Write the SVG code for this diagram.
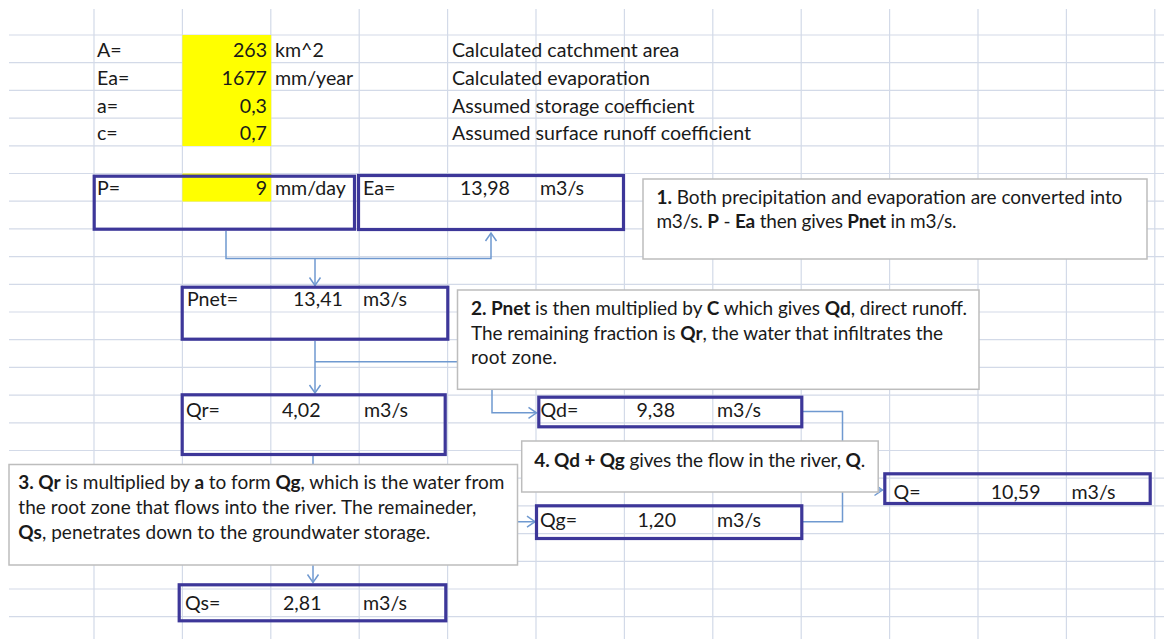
<svg xmlns="http://www.w3.org/2000/svg" width="1164" height="639" viewBox="0 0 1164 639">
<style>
.grid{stroke:#D3DAE8;stroke-width:1.2;fill:none}
.yel{fill:#FFFF00}
.box{fill:none;stroke:#3D3799;stroke-width:3.2}
.cell{font-family:Lato,"Liberation Sans",sans-serif;font-size:19.6px;fill:#1a1a1a}
.r{text-anchor:end}
.conn{fill:none;stroke:#6F99D0;stroke-width:1.5}
.call{fill:#FFFFFF;stroke:#BDBDBD;stroke-width:1.5}
.ct{font-family:Lato,"Liberation Sans",sans-serif;font-size:19px;fill:#1a1a1a}
.b{font-weight:bold}
</style>
<defs>
<marker id="arr" viewBox="-10 -7 12 14" refX="0" refY="0" markerWidth="12" markerHeight="14" markerUnits="userSpaceOnUse" orient="auto">
<path d="M-8,-5.5 L0,0 L-8,5.5" fill="none" stroke="#6F99D0" stroke-width="1.5"/>
</marker>
</defs>
<rect width="1164" height="639" fill="#FFFFFF"/>
<g id="grid">
<path class="grid" d="M94,9V639M182.4,9V639M270.8,9V639M359.2,9V639M447.6,9V639M536,9V639M624.4,9V639M712.8,9V639M801.2,9V639M889.6,9V639M978,9V639M1066.4,9V639M1154.8,9V639"/>
<path class="grid" d="M9,35H1164M9,62.7H1164M9,90.4H1164M9,118.1H1164M9,145.8H1164M9,173.5H1164M9,201.2H1164M9,228.9H1164M9,256.6H1164M9,284.3H1164M9,312H1164M9,339.7H1164M9,367.4H1164M9,395.1H1164M9,422.8H1164M9,450.5H1164M9,478.2H1164M9,505.9H1164M9,533.6H1164M9,561.3H1164M9,589H1164M9,616.7H1164"/>
</g>
<g id="inputs">
<rect class="yel" x="182.4" y="35" width="88.8" height="111"/>
<rect class="yel" x="182.4" y="173.5" width="88.8" height="28"/>
<text class="cell" x="97" y="57">A=</text>
<text class="cell" x="97" y="85">Ea=</text>
<text class="cell" x="97" y="112.5">a=</text>
<text class="cell" x="97" y="140">c=</text>
<text class="cell r" x="267" y="57">263</text>
<text class="cell r" x="267" y="85">1677</text>
<text class="cell r" x="267" y="112.5">0,3</text>
<text class="cell r" x="267" y="140">0,7</text>
<text class="cell" x="275" y="57">km^2</text>
<text class="cell" x="275" y="85">mm/year</text>
<text class="cell" x="452" y="57">Calculated catchment area</text>
<text class="cell" x="452" y="85">Calculated evaporation</text>
<text class="cell" x="452" y="112.5">Assumed storage coefficient</text>
<text class="cell" x="452" y="140">Assumed surface runoff coefficient</text>
</g>
<g id="connectors">
<path class="conn" d="M226,231V258.6H491V233" marker-end="url(#arr)"/>
<path class="conn" d="M315,258.6V285.5" marker-end="url(#arr)"/>
<path class="conn" d="M315,341V393" marker-end="url(#arr)"/>
<path class="conn" d="M315,361.7H492V412.8H536.5" marker-end="url(#arr)"/>
<path class="conn" d="M313,456V582.5" marker-end="url(#arr)"/>
<path class="conn" d="M313,521.7H535" marker-end="url(#arr)"/>
<path class="conn" d="M803,411.5H842.5V521.7H803"/>
<path class="conn" d="M842.5,490H882.5" marker-end="url(#arr)"/>
</g>
<g id="node-P">
<rect class="box" x="94.2" y="176.2" width="260.3" height="53"/>
<text class="cell" x="97" y="195">P=</text>
<text class="cell r" x="267" y="195">9</text>
<text class="cell" x="275" y="195">mm/day</text>
</g>
<g id="node-Ea">
<rect class="box" x="358.5" y="175.5" width="265" height="54"/>
<text class="cell" x="363" y="195">Ea=</text>
<text class="cell" x="460" y="195">13,98</text>
<text class="cell" x="540" y="195">m3/s</text>
</g>
<g id="node-Pnet">
<rect class="box" x="182.2" y="287.2" width="265.6" height="52"/>
<text class="cell" x="187" y="306">Pnet=</text>
<text class="cell" x="293" y="306">13,41</text>
<text class="cell" x="363" y="306">m3/s</text>
</g>
<g id="node-Qr">
<rect class="box" x="182.2" y="394.8" width="263" height="59.7"/>
<text class="cell" x="186" y="416.5">Qr=</text>
<text class="cell" x="282" y="416.5">4,02</text>
<text class="cell" x="364" y="416.5">m3/s</text>
</g>
<g id="node-Qd">
<rect class="box" x="538.8" y="397.2" width="263" height="29.6"/>
<text class="cell" x="540.5" y="417">Qd=</text>
<text class="cell" x="636.5" y="417">9,38</text>
<text class="cell" x="717" y="417">m3/s</text>
</g>
<g id="node-Qg">
<rect class="box" x="536.5" y="505.8" width="265.3" height="32.7"/>
<text class="cell" x="540" y="527">Qg=</text>
<text class="cell" x="637.5" y="527">1,20</text>
<text class="cell" x="717" y="527">m3/s</text>
</g>
<g id="node-Q">
<rect class="box" x="884.8" y="473.8" width="265.4" height="29.7"/>
<text class="cell" x="893.5" y="498.5">Q=</text>
<text class="cell" x="990.7" y="498.5">10,59</text>
<text class="cell" x="1071.5" y="498.5">m3/s</text>
</g>
<g id="node-Qs">
<rect class="box" x="179.2" y="584.8" width="266.6" height="36"/>
<text class="cell" x="185" y="610">Qs=</text>
<text class="cell" x="283" y="610">2,81</text>
<text class="cell" x="363" y="610">m3/s</text>
</g>
<g id="note-1">
<rect class="call" x="643" y="179" width="504" height="80"/>
<text class="ct" x="656.4" y="203.5" textLength="466"><tspan class="b">1.</tspan> Both precipitation and evaporation are converted into</text>
<text class="ct" x="656.4" y="228" textLength="300">m3/s. <tspan class="b">P</tspan> - <tspan class="b">Ea</tspan> then gives <tspan class="b">Pnet</tspan> in m3/s.</text>
</g>
<g id="note-2">
<rect class="call" x="457.5" y="290" width="521.5" height="99.3"/>
<text class="ct" x="471" y="315" textLength="496"><tspan class="b">2. Pnet</tspan> is then multiplied by <tspan class="b">C</tspan> which gives <tspan class="b">Qd</tspan>, direct runoff.</text>
<text class="ct" x="471" y="339.5" textLength="472">The remaining fraction is <tspan class="b">Qr</tspan>, the water that infiltrates the</text>
<text class="ct" x="471" y="364" textLength="86">root zone.</text>
</g>
<g id="note-3">
<rect class="call" x="9" y="464.5" width="508.5" height="100.5"/>
<text class="ct" x="18.3" y="489.3" textLength="486"><tspan class="b">3. Qr</tspan> is multiplied by <tspan class="b">a</tspan> to form <tspan class="b">Qg</tspan>, which is the water from</text>
<text class="ct" x="18.3" y="514" textLength="458">the root zone that flows into the river. The remaineder,</text>
<text class="ct" x="18.3" y="538.5" textLength="412"><tspan class="b">Qs</tspan>, penetrates down to the groundwater storage.</text>
</g>
<g id="note-4">
<rect class="call" x="521.7" y="441" width="356.5" height="51"/>
<text class="ct" x="534.3" y="466.7" textLength="331"><tspan class="b">4. Qd + Qg</tspan> gives the flow in the river, <tspan class="b">Q</tspan>.</text>
</g>
</svg>
